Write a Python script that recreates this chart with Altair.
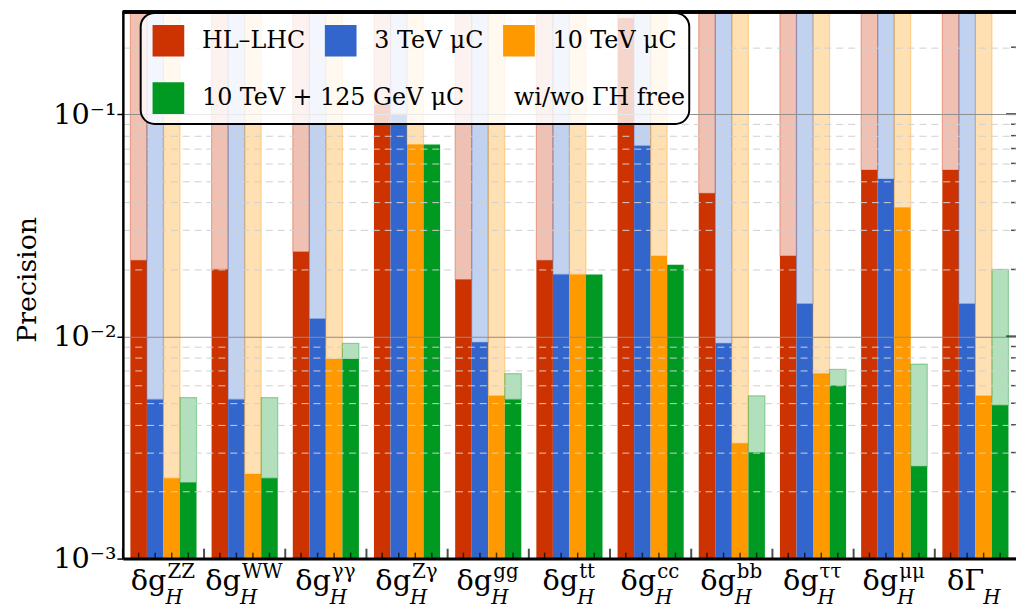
import altair as alt
import pandas as pd

# ---------------- data ----------------
groups = ["ZZ", "WW", "γγ", "Zγ", "gg", "tt", "cc", "bb", "ττ", "μμ", "ΓH"]
series = ["HL–LHC", "3 TeV μC", "10 TeV μC", "10 TeV + 125 GeV μC"]
legend_extra = "wi/wo ΓH free"
colors = ["#cc3300", "#3366cc", "#ff9900", "#009922"]

label_main = ["δg"] * 10 + ["δΓ"]
label_sup = ["ZZ", "WW", "γγ", "Zγ", "gg", "tt", "cc", "bb", "ττ", "μμ", ""]
label_sub = ["H"] * 11

TOP = 1.0  # bars that continue past the top of the axis
hl_fixed = [0.022, 0.020, 0.024, 0.11, 0.018, 0.022, 0.27, 0.044, 0.023, 0.056, 0.056]
hl_free = [TOP] * 11
mu3_fixed = [0.0052, 0.0052, 0.012, 0.10, 0.0094, 0.019, 0.072, 0.0093, 0.014, 0.051, 0.014]
mu3_free = [TOP] * 11
mu10_fixed = [0.0023, 0.0024, 0.0079, 0.073, 0.0054, 0.019, 0.023, 0.0033, 0.0068, 0.038, 0.0054]
mu10_free = [TOP] * 11
mu10h_fixed = [0.0022, 0.0023, 0.0079, 0.073, 0.0052, 0.019, 0.021, 0.0030, 0.0060, 0.0026, 0.0049]
mu10h_free = [0.0053, 0.0053, 0.0093, 0.073, 0.0068, 0.019, 0.021, 0.0054, 0.0071, 0.0075, 0.020]

major_ticks = [0.001, 0.01, 0.1]
minor_ticks = [0.002, 0.003, 0.004, 0.005, 0.006, 0.007, 0.008, 0.009,
               0.02, 0.03, 0.04, 0.05, 0.06, 0.07, 0.08, 0.09, 0.2]

# ---------------- tables ----------------
fixed_all = [hl_fixed, mu3_fixed, mu10_fixed, mu10h_fixed]
free_all = [hl_free, mu3_free, mu10_free, mu10h_free]
rows = []
for s, fx, fr in zip(series, fixed_all, free_all):
    for g, a, b in zip(groups, fx, fr):
        rows.append({"group": g, "series": s, "fixed": a, "free": b})
bars = pd.DataFrame(rows)
grp_df = pd.DataFrame({"group": groups})
ticks_major = pd.DataFrame({"v": major_ticks})
ticks_minor = pd.DataFrame({"v": minor_ticks})

# ---------------- layout ----------------
W, H = 902, 552
FONT = "DejaVu Serif"
y_dom = [0.001, 0.288]
yscale = alt.Scale(type="log", domain=y_dom, nice=False)
xscale = alt.Scale(domain=groups, paddingInner=0, paddingOuter=0)
xoff_scale = alt.Scale(domain=series, paddingInner=0, paddingOuter=0.455)

major_test = "datum.value == 0.001 || datum.value == 0.01 || datum.value == 0.1"

y_axis = alt.Axis(
    values=major_ticks + minor_ticks,
    labelExpr="datum.value == 0.001 ? '10⁻³' : datum.value == 0.01 ? '10⁻²' : datum.value == 0.1 ? '10⁻¹' : ''",
    labelFont=FONT, labelFontSize=29, labelColor="black", labelPadding=1,
    labelOverlap=False, labelFlush=False,
    title="Precision", titleFont=FONT, titleFontSize=27, titleFontWeight="normal",
    titleColor="black", titleX=-82, titleY=270, titleAngle=270,
    titleAlign="center", titleBaseline="bottom",
    tickColor="black", tickWidth=1.5,
    tickSize={"condition": {"test": major_test, "value": 6}, "value": 0},
    domainColor="black", domainWidth=2.5,
    grid=True, gridWidth=1,
    gridColor={"condition": {"test": major_test, "value": "#8f8f8f"}, "value": "#cfcfcf"},
    gridDash={"condition": {"test": major_test, "value": []}, "value": [7, 5]},
    zindex=1,
)
x_axis = alt.Axis(labels=False, ticks=False, title=None, domainColor="black",
                  domainWidth=3, grid=False, zindex=1)

common_legend = dict(
    orient="none", direction="horizontal",
    symbolType="square", symbolSize=1024, symbolStrokeWidth=0,
    labelFont=FONT, labelFontSize=24, labelColor="black", labelLimit=400,
    labelOffset=18,
)
# first row (with the rounded frame)
legend_a = alt.Legend(
    title="\u00a0", titleOrient="bottom", titleFontSize=27, titlePadding=30,
    legendX=18, legendY=1, columns=3, columnPadding=19, padding=12,
    strokeColor="black", fillColor="rgba(255,255,255,0.8)", cornerRadius=14,
    zindex=1, **common_legend,
)
# second row (drawn inside the same frame)
legend_b = alt.Legend(
    title=None, legendX=20, legendY=61, columns=2, columnPadding=-15, padding=10,
    strokeColor="rgba(0,0,0,0)", fillColor="rgba(0,0,0,0)",
    zindex=2, **common_legend,
)

solid_a = alt.Chart(bars).transform_filter(
    alt.FieldOneOfPredicate(field="series", oneOf=series[:3])
).mark_bar(clip=True).encode(
    x=alt.X("group:N", scale=xscale, axis=x_axis),
    xOffset=alt.XOffset("series:N", scale=xoff_scale),
    y=alt.Y("fixed:Q", scale=yscale, axis=y_axis),
    y2=alt.datum(0.001),
    fill=alt.Fill("series:N", scale=alt.Scale(domain=series[:3], range=colors[:3]),
                  legend=legend_a),
)
solid_b = alt.Chart(bars).transform_filter(
    alt.FieldEqualPredicate(field="series", equal=series[3])
).mark_bar(clip=True).encode(
    x=alt.X("group:N", scale=xscale),
    xOffset=alt.XOffset("series:N", scale=xoff_scale),
    y=alt.Y("fixed:Q", scale=yscale),
    y2=alt.datum(0.001),
    fill=alt.Fill("series:N",
                  scale=alt.Scale(domain=[series[3], legend_extra],
                                  range=[colors[3], "rgba(0,0,0,0)"]),
                  legend=legend_b),
)

pale = alt.Chart(bars).transform_filter("datum.free > datum.fixed").mark_bar(
    clip=True, fillOpacity=0.3, strokeOpacity=0.35, strokeWidth=1.2
).encode(
    x=alt.X("group:N", scale=xscale),
    xOffset=alt.XOffset("series:N", scale=xoff_scale),
    y=alt.Y("free:Q", scale=yscale),
    y2=alt.Y2("fixed:Q"),
    fill=alt.Fill("series:N", scale=alt.Scale(domain=series, range=colors), legend=None),
    stroke=alt.Stroke("series:N", scale=alt.Scale(domain=series, range=colors), legend=None),
)

bar_ticks = alt.Chart(bars).mark_tick(orient="vertical", color="black", size=6, thickness=1.5).encode(
    x=alt.X("group:N", scale=xscale),
    xOffset=alt.XOffset("series:N", scale=xoff_scale),
    y=alt.value(H - 3),
)
sep_ticks = alt.Chart(grp_df).mark_tick(orient="vertical", color="black", size=10, thickness=2).encode(
    x=alt.X("group:N", scale=xscale, bandPosition=0),
    y=alt.value(H - 5),
)
right_major = alt.Chart(ticks_major).mark_tick(orient="horizontal", color="black", size=10, thickness=2).encode(
    y=alt.Y("v:Q", scale=yscale),
    x=alt.value(W - 5),
)
right_minor = alt.Chart(ticks_minor).mark_tick(orient="horizontal", color="black", size=5, thickness=1.5).encode(
    y=alt.Y("v:Q", scale=yscale),
    x=alt.value(W - 2.5),
)
top_line = alt.Chart(grp_df).mark_rule(color="black", strokeWidth=2.5).encode(
    y=alt.value(0), x=alt.value(0), x2=alt.value(W),
)

# ---------------- x labels (δg^X_H) ----------------
W_MAIN = {"δ": 0.52, "g": 0.64, "Γ": 0.64}
W_SUP = {"Z": 0.69, "W": 1.03, "γ": 0.59, "g": 0.64, "t": 0.4, "c": 0.56,
         "b": 0.64, "τ": 0.56, "μ": 0.64}
FS_MAIN, FS_SUP, FS_SUB = 29, 20, 20
label_layers = []
for g, m, sp, sb in zip(groups, label_main, label_sup, label_sub):
    wm = FS_MAIN * sum(W_MAIN.get(c, 0.6) for c in m)
    wsp = FS_SUP * sum(W_SUP.get(c, 0.6) for c in sp)
    wsb = FS_SUB * 0.8 * len(sb)
    total = wm + max(wsp, wsb)
    anchor = -total / 2 + wm
    d = pd.DataFrame({"group": [g], "main": [m], "sup": [sp], "sub": [sb]})
    base = alt.Chart(d)
    label_layers.append(base.mark_text(align="right", baseline="alphabetic", font=FONT,
                                       fontSize=FS_MAIN, color="black", dx=anchor).encode(
        x=alt.X("group:N", scale=xscale), y=alt.value(H + 32), text="main:N"))
    if sp:
        label_layers.append(base.mark_text(align="left", baseline="alphabetic", font=FONT,
                                           fontSize=FS_SUP, color="black", dx=anchor + 1).encode(
            x=alt.X("group:N", scale=xscale), y=alt.value(H + 20), text="sup:N"))
    label_layers.append(base.mark_text(align="left", baseline="alphabetic", font=FONT,
                                       fontSize=FS_SUB, fontStyle="italic", color="black",
                                       dx=anchor - 1).encode(
        x=alt.X("group:N", scale=xscale), y=alt.value(H + 46), text="sub:N"))

chart = alt.layer(
    solid_a, solid_b, pale, bar_ticks, sep_ticks, right_major, right_minor, top_line,
    *label_layers
).resolve_scale(fill="independent").resolve_legend(fill="independent").properties(
    width=W, height=H, autosize="none",
    padding={"left": 116, "top": 1, "right": 0, "bottom": 62},
).configure_view(stroke=None).configure_legend(strokeWidth=2)

chart.save("out.html", embed_options={"renderer": "svg", "actions": False})
